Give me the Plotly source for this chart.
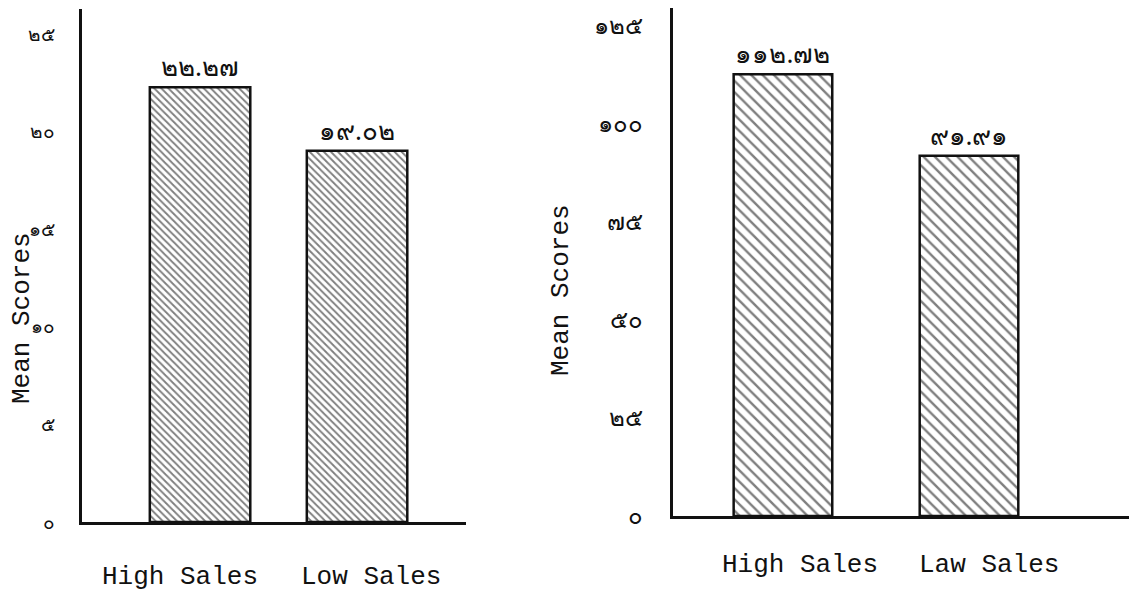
import plotly.graph_objects as go

TH = str.maketrans("0123456789", "๐๑๒๓๔๕๖๗๘๙")

def thai(v, fmt="{:.2f}"):
    return fmt.format(v).translate(TH)

# Left chart
left_categories = ["High Sales", "Low Sales"]
left_values = [22.27, 19.02]
left_ticks = [0, 5, 10, 15, 20, 25]

# Right chart
right_categories = ["High Sales", "Law Sales"]
right_values = [112.72, 91.91]
right_ticks = [0, 25, 50, 75, 100, 125]

# page body has an 8px default margin; figure sized to fit the window
OFF = 8
W, H = 1137 - OFF, 597 - OFF
FONT = "Liberation Mono, Courier New, monospace"
THAI_FONT = "Noto Sans, DejaVu Sans, sans-serif"

fig = go.Figure()

fig.add_trace(go.Bar(
    x=left_categories, y=left_values, xaxis="x", yaxis="y",
    width=0.64,
    marker=dict(color="white",
                line=dict(color="#111", width=2.5),
                pattern=dict(shape="\\", fgcolor="#000", bgcolor="white",
                             size=5, solidity=0.38)),
    text=[thai(v) for v in left_values], textposition="outside",
    textfont=dict(family=THAI_FONT, size=26, color="#111"),
    cliponaxis=False, showlegend=False,
))

fig.add_trace(go.Bar(
    x=right_categories, y=right_values, xaxis="x2", yaxis="y2",
    width=0.53,
    marker=dict(color="white",
                line=dict(color="#111", width=2.5),
                pattern=dict(shape="\\", fgcolor="#000", bgcolor="white",
                             size=8, solidity=0.3)),
    text=[thai(v) for v in right_values], textposition="outside",
    textfont=dict(family=THAI_FONT, size=26, color="#111"),
    cliponaxis=False, showlegend=False,
))

def fx(px):
    return min(max((px - OFF) / W, 0.0), 1.0)

def fy(py):
    return min(max((H - (py - OFF)) / H, 0.0), 1.0)

L_y0, L_ytop, L_scale = 522, 9, 19.52
R_y0, R_ytop, R_scale = 516, OFF, 3.92

axis_common = dict(showline=True, linecolor="#111", linewidth=2.5,
                   showgrid=False, zeroline=False, automargin=False)

fig.update_layout(
    width=W, height=H,
    margin=dict(l=0, r=0, t=0, b=0, autoexpand=False),
    paper_bgcolor="white", plot_bgcolor="white",
    xaxis=dict(domain=[fx(82), fx(466)], range=[-0.752, 1.694],
               anchor="y", showticklabels=False, **axis_common),
    yaxis=dict(domain=[fy(L_y0), fy(L_ytop)],
               range=[0, (L_y0 - L_ytop) / L_scale],
               anchor="x", tickvals=left_ticks,
               ticktext=[thai(t, "{:d}") for t in left_ticks],
               ticks="outside", ticklen=20, tickcolor="rgba(0,0,0,0)",
               tickfont=dict(family=THAI_FONT, size=19, color="#111"),
               **axis_common),
    xaxis2=dict(domain=[fx(673), 1.0], range=[-0.591, 1.903],
                anchor="y2", showticklabels=False, **axis_common),
    yaxis2=dict(domain=[fy(R_y0), 1.0],
                range=[0, (R_y0 - R_ytop) / R_scale],
                anchor="x2", tickvals=right_ticks,
                ticktext=[thai(t, "{:d}") for t in right_ticks],
                ticks="outside", ticklen=22, tickcolor="rgba(0,0,0,0)",
                tickfont=dict(family=THAI_FONT, size=24, color="#111"),
                **axis_common),
)

annotations = [
    dict(text="Mean Scores", textangle=-90, xref="paper", yref="paper",
         x=fx(22), y=fy(318), xanchor="center", yanchor="middle",
         showarrow=False, font=dict(family=FONT, size=26, color="#111")),
    dict(text="Mean Scores", textangle=-90, xref="paper", yref="paper",
         x=fx(561), y=fy(290), xanchor="center", yanchor="middle",
         showarrow=False, font=dict(family=FONT, size=26, color="#111")),
]
# category labels under the bars
for cat, dx in zip(left_categories, [-20, 14]):
    annotations.append(dict(text=cat, x=cat, y=0, xref="x", yref="y",
                            xanchor="center", yanchor="middle",
                            xshift=dx, yshift=-55, showarrow=False,
                            font=dict(family=FONT, size=26, color="#111")))
for cat, dx in zip(right_categories, [17, 20]):
    annotations.append(dict(text=cat, x=cat, y=0, xref="x2", yref="y2",
                            xanchor="center", yanchor="middle",
                            xshift=dx, yshift=-49, showarrow=False,
                            font=dict(family=FONT, size=26, color="#111")))
fig.update_layout(annotations=annotations)

fig.write_html("out.html")
